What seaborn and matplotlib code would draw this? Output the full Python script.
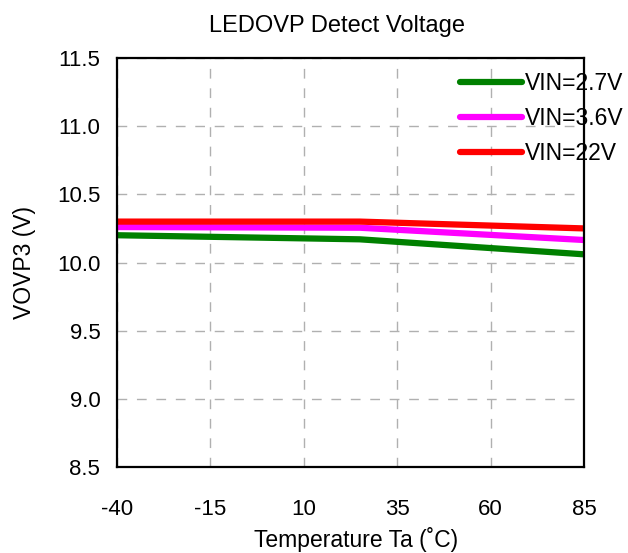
import pandas as pd
import seaborn as sns
import matplotlib
matplotlib.use("Agg")
import matplotlib.pyplot as plt

# values
temps = [-40, 25, 85]
vin_27 = [10.20, 10.17, 10.06]
vin_36 = [10.26, 10.255, 10.165]
vin_22 = [10.30, 10.30, 10.25]
series_names = ["VIN=2.7V", "VIN=3.6V", "VIN=22V"]
series_colors = ["#008000", "#FF00FF", "#FF0000"]
x_ticks = [-40, -15, 10, 35, 60, 85]
y_ticks = [8.5, 9.0, 9.5, 10.0, 10.5, 11.0, 11.5]

df = pd.concat([
    pd.DataFrame({"Temp": temps, "VOVP3": vals, "Series": name})
    for name, vals in zip(series_names, [vin_27, vin_36, vin_22])
])

sns.set_style("white")
plt.rcParams["font.family"] = ["Liberation Sans", "DejaVu Sans"]
plt.rcParams["axes.unicode_minus"] = False
plt.rcParams["text.color"] = "black"
plt.rcParams["axes.labelcolor"] = "black"
plt.rcParams["xtick.color"] = "black"
plt.rcParams["ytick.color"] = "black"

fig = plt.figure(figsize=(6.28, 5.53), dpi=100)
ax = fig.add_axes([117 / 628, 1 - 467 / 553, 467 / 628, 409 / 553])

sns.lineplot(data=df, x="Temp", y="VOVP3", hue="Series", hue_order=series_names,
             palette=series_colors, linewidth=4.5, ax=ax, legend=False)

ax.set_xlim(-40, 85)
ax.set_ylim(8.5, 11.5)
ax.set_xticks(x_ticks)
ax.set_xticklabels([str(v) for v in x_ticks])
ax.set_yticks(y_ticks)
ax.set_yticklabels([f"{v:.1f}" for v in y_ticks])
ax.grid(True, color="#b0b0b0", linestyle=(0, (7, 7)), linewidth=1)
ax.tick_params(axis="both", direction="in", length=5, width=1.2, labelsize=16,
               color="black", labelcolor="black")
ax.tick_params(axis="x", pad=23)
ax.tick_params(axis="y", pad=12)
for s in ax.spines.values():
    s.set_color("black")
    s.set_linewidth(1.6)

ax.set_title("LEDOVP Detect Voltage", fontsize=17, pad=19, color="black",
             x=(337 - 117) / 467)
ax.set_xlabel("Temperature Ta (˚C)", fontsize=16.5, labelpad=5,
              x=(356 - 117) / 467)
ax.set_ylabel("VOVP3 (V)", fontsize=16.5, labelpad=15)

handles = [plt.Line2D([], [], color=c, linewidth=4.5) for c in series_colors]
fig.legend(handles, series_names, loc="upper left", bbox_to_anchor=(460 / 628, 1 - 72 / 553),
           bbox_transform=fig.transFigure, frameon=False, fontsize=16.5, handlelength=2.7,
           handletextpad=0.15, labelspacing=0.53, borderpad=0, borderaxespad=0)

fig.savefig("out.png", dpi=100)
